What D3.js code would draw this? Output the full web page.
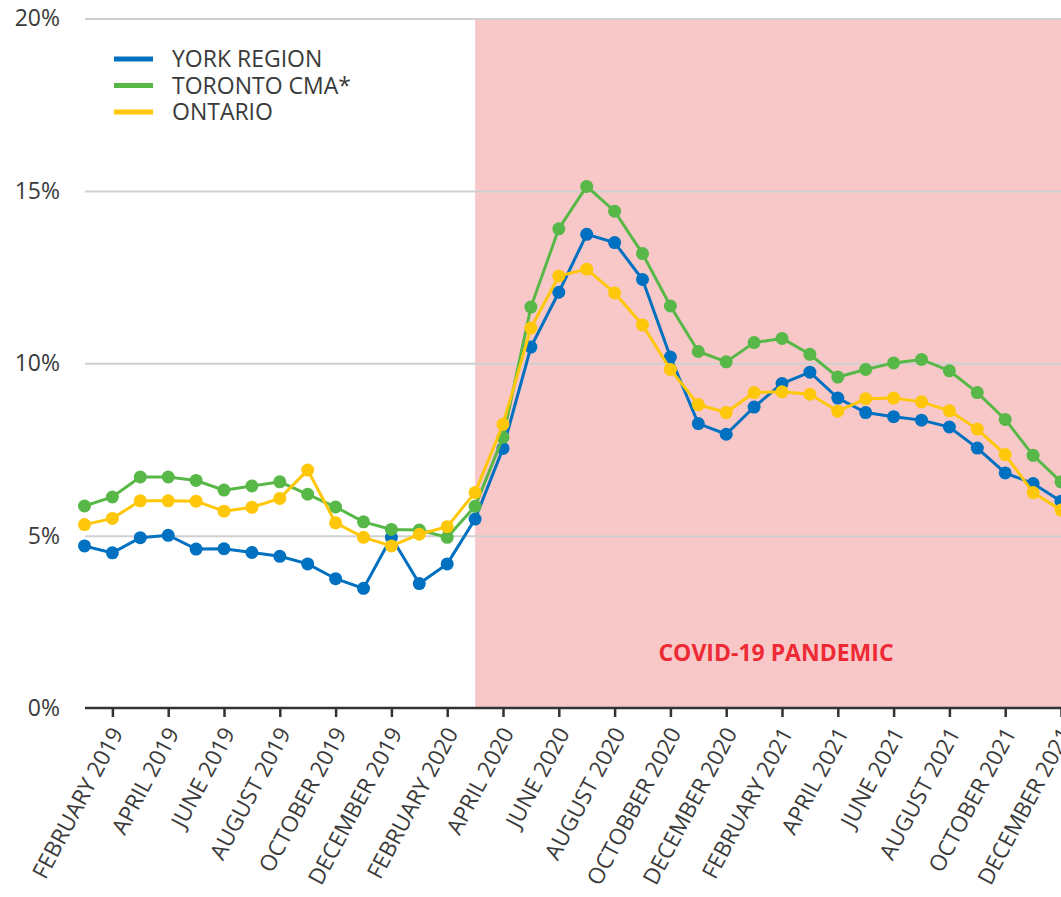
<!DOCTYPE html>
<html>
<head>
<meta charset="utf-8">
<script src="https://cdn.jsdelivr.net/npm/d3@7"></script>
<style>
  body { margin: 0; background: #fff; }
  text { font-family: "Open Sans", sans-serif; }
</style>
</head>
<body>
<div id="chart"></div>
<script>
// monthly values, January 2019 to December 2021
const months = [
  "JANUARY 2019", "FEBRUARY 2019", "MARCH 2019", "APRIL 2019", "MAY 2019", "JUNE 2019",
  "JULY 2019", "AUGUST 2019", "SEPTEMBER 2019", "OCTOBER 2019", "NOVEMBER 2019", "DECEMBER 2019",
  "JANUARY 2020", "FEBRUARY 2020", "MARCH 2020", "APRIL 2020", "MAY 2020", "JUNE 2020",
  "JULY 2020", "AUGUST 2020", "SEPTEMBER 2020", "OCTOBBER 2020", "NOVEMBER 2020", "DECEMBER 2020",
  "JANUARY 2021", "FEBRUARY 2021", "MARCH 2021", "APRIL 2021", "MAY 2021", "JUNE 2021",
  "JULY 2021", "AUGUST 2021", "SEPTEMBER 2021", "OCTOBER 2021", "NOVEMBER 2021", "DECEMBER 2021"
];
const tickMonths = months.filter((d, i) => i % 2 === 1);

const york = [4.70, 4.50, 4.94, 5.01, 4.61, 4.62, 4.51, 4.40, 4.18, 3.75, 3.47, 4.95,
  3.61, 4.18, 5.48, 7.53, 10.47, 12.06, 13.74, 13.50, 12.43, 10.18, 8.25, 7.94,
  8.73, 9.41, 9.74, 8.99, 8.57, 8.45, 8.35, 8.15, 7.54, 6.82, 6.51, 6.00];
const toronto = [5.86, 6.12, 6.70, 6.70, 6.60, 6.32, 6.44, 6.56, 6.20, 5.83, 5.40, 5.18,
  5.16, 4.95, 5.85, 7.85, 11.63, 13.90, 15.13, 14.41, 13.18, 11.66, 10.34, 10.04,
  10.60, 10.72, 10.26, 9.60, 9.82, 10.01, 10.11, 9.78, 9.15, 8.37, 7.33, 6.56];
const ontario = [5.32, 5.50, 6.01, 6.01, 6.00, 5.71, 5.82, 6.08, 6.90, 5.37, 4.95, 4.70,
  5.04, 5.26, 6.25, 8.23, 11.02, 12.53, 12.73, 12.04, 11.11, 9.82, 8.80, 8.57,
  9.15, 9.17, 9.10, 8.61, 8.97, 8.99, 8.88, 8.62, 8.09, 7.35, 6.25, 5.74];

const seriesNames = ["YORK REGION", "TORONTO CMA*", "ONTARIO"];
const yTicks = [0, 5, 10, 15, 20];
const pandemicStart = "MARCH 2020";
const pandemicLabel = "COVID-19 PANDEMIC";

const width = 1061, height = 897;
const colors = ["#0070c0", "#57b847", "#ffc709"];
const seriesData = [york, toronto, ontario];

const svg = d3.select("#chart")
  .append("svg")
    .attr("width", width)
    .attr("height", height);

const x = d3.scalePoint()
  .domain(months)
  .range([84.5, 1061]);

const y = d3.scaleLinear()
  .domain([0, 20])
  .range([708, 18.5]);

// pandemic band
svg.append("rect")
  .attr("x", x(pandemicStart))
  .attr("y", y(20))
  .attr("width", width - x(pandemicStart))
  .attr("height", y(0) - y(20))
  .attr("fill", "#f8c8c9");

svg.append("text")
  .attr("x", 776)
  .attr("y", 661)
  .attr("text-anchor", "middle")
  .attr("font-size", 23)
  .attr("font-weight", 700)
  .attr("fill", "#ee2a35")
  .text(pandemicLabel);

// gridlines + y labels
const yAxis = svg.append("g")
  .attr("transform", "translate(85,0)")
  .call(d3.axisLeft(y).tickValues(yTicks).tickSize(-(width - 85)).tickPadding(25).tickFormat(d => d + "%"));
yAxis.select(".domain").remove();
yAxis.selectAll(".tick line")
  .attr("stroke", d => d === 0 ? "none" : "#d0d0d0")
  .attr("stroke-width", 2);
yAxis.selectAll(".tick text")
  .attr("font-size", 23)
  .attr("fill", "#3a3a3a")
  .attr("font-family", "'Open Sans', sans-serif");

// x axis
const xAxis = svg.append("g")
  .attr("transform", "translate(0,708)")
  .call(d3.axisBottom(x).tickValues(tickMonths).tickSize(9).tickSizeOuter(0).tickPadding(0));
xAxis.select(".domain")
  .attr("stroke", "#333")
  .attr("stroke-width", 2.5)
  .attr("d", `M85,0H${width}`);
xAxis.selectAll(".tick line")
  .attr("stroke", "#333")
  .attr("stroke-width", 2.5);
xAxis.selectAll(".tick text")
  .attr("font-size", 22.5)
  .attr("fill", "#3a3a3a")
  .attr("font-family", "'Open Sans', sans-serif")
  .attr("text-anchor", "end")
  .attr("y", 0)
  .attr("dy", 0)
  .attr("transform", "translate(11,25) rotate(-62)");

// lines and dots
const line = d3.line()
  .x((d, i) => x(months[i]))
  .y(d => y(d));

seriesData.forEach((vals, k) => {
  const g = svg.append("g");
  g.append("path")
    .datum(vals)
    .attr("fill", "none")
    .attr("stroke", colors[k])
    .attr("stroke-width", 3)
    .attr("d", line);
  g.selectAll("circle")
    .data(vals)
    .enter()
    .append("circle")
      .attr("cx", (d, i) => x(months[i]))
      .attr("cy", d => y(d))
      .attr("r", 6.5)
      .attr("fill", colors[k]);
});

// legend
const legend = svg.append("g");
seriesNames.forEach((name, k) => {
  const ly = 59 + k * 26.5;
  legend.append("line")
    .attr("x1", 114).attr("x2", 153)
    .attr("y1", ly).attr("y2", ly)
    .attr("stroke", colors[k])
    .attr("stroke-width", 5);
  legend.append("text")
    .attr("x", 172)
    .attr("y", ly + 8)
    .attr("font-size", 23)
    .attr("fill", "#3a3a3a")
    .text(name);
});
</script>
</body>
</html>
